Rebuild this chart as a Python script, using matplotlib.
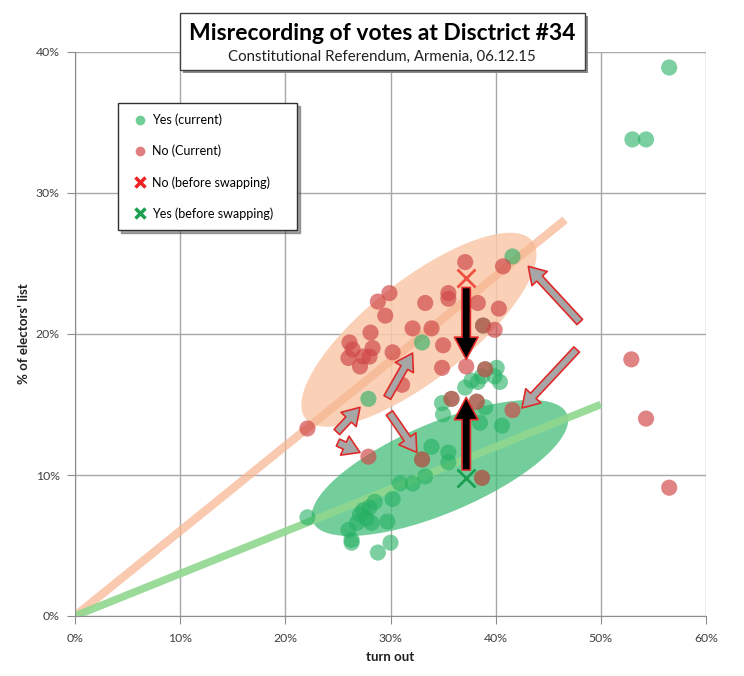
import numpy as np
import matplotlib
matplotlib.use('Agg')
import matplotlib.pyplot as plt
from matplotlib.patches import Polygon, Rectangle, FancyArrowPatch, ArrowStyle
from matplotlib.lines import Line2D
from matplotlib.ticker import FuncFormatter

plt.rcParams['font.family'] = ['Lato', 'DejaVu Sans']

# "No" votes (current), % of electors' list vs turnout
no_x = [29.9, 28.8, 29.5, 28.1, 26.1, 26.4, 27.4, 28.3, 26.0, 27.1, 28.0, 30.2, 32.1,
        37.1, 40.7, 35.5, 35.5, 33.3, 38.3, 40.3, 33.9, 38.8, 39.9, 35.0, 34.9, 37.2,
        39.0, 35.8, 38.2, 41.6, 22.1, 27.9, 33.0, 38.7, 31.1, 52.9, 54.3, 56.5]
no_y = [22.9, 22.3, 21.3, 20.1, 19.4, 18.9, 18.4, 19.0, 18.3, 17.7, 18.4, 18.7, 20.4,
        25.1, 24.8, 22.9, 22.5, 22.2, 22.2, 21.8, 20.4, 20.6, 20.3, 19.2, 17.6, 17.7,
        17.5, 15.4, 15.2, 14.6, 13.3, 11.3, 11.1, 9.8, 16.4, 18.2, 14.0, 9.1]

# "Yes" votes (current)
yes_x = [56.5, 53.0, 54.3, 41.6, 33.0, 27.9, 38.8, 39.0, 35.8, 38.2, 38.5, 33.0, 38.7,
         39.9, 40.4, 38.7, 38.3, 37.7, 37.1, 34.9, 35.0, 39.0, 40.6, 33.9, 35.5, 35.5,
         33.3, 32.1, 30.9, 30.2, 28.5, 28.0, 27.4, 27.1, 28.2, 29.7, 26.8, 26.0, 26.3,
         26.3, 30.0, 28.8, 22.1, 27.7, 40.1]
yes_y = [38.9, 33.8, 33.8, 25.5, 19.4, 15.4, 20.6, 17.5, 15.4, 15.2, 13.7, 11.1, 9.8,
         17.0, 16.6, 17.0, 16.6, 16.7, 16.2, 15.1, 14.3, 14.8, 13.5, 12.0, 11.6, 10.9,
         9.9, 9.4, 9.4, 8.3, 8.1, 7.7, 7.5, 7.2, 6.6, 6.7, 6.6, 6.1, 5.4,
         5.2, 5.2, 4.5, 7.0, 6.9, 17.6]

# values before swapping at the district
swap_no = (37.2, 24.0)
swap_yes = (37.2, 9.8)

# trend lines
trend_no_x = [0, 46.6]
trend_no_y = [0, 28.1]
trend_yes_x = [0, 50.0]
trend_yes_y = [0, 15.0]

# arrows (tail, head) in data units
grey_arrows = [((48.0, 20.85), (43.1, 24.8)),
               ((47.7, 18.9), (42.5, 14.75)),
               ((24.9, 13.05), (27.1, 14.8)),
               ((25.0, 12.3), (27.1, 11.6)),
               ((29.9, 14.4), (32.5, 11.6)),
               ((29.7, 15.5), (32.1, 18.65))]
black_arrows = [((37.2, 23.3), (37.2, 18.2)),
                ((37.2, 10.35), (37.2, 15.5))]

W, H = 744, 676
fig = plt.figure(figsize=(W / 100, H / 100), dpi=100)
ax = fig.add_axes([75 / W, 1 - 616 / H, 631 / W, 564 / H])
ax.set_xlim(0, 60)
ax.set_ylim(0, 40)


def cloud(center, a_px, b_px, angle):
    # ellipse drawn in pixel space, converted to data units
    sx = 631 / 60.0
    sy = 564 / 40.0
    t = np.linspace(0, 2 * np.pi, 200)
    th = np.radians(angle)
    px = a_px * np.cos(t) * np.cos(th) - b_px * np.sin(t) * np.sin(th)
    py = a_px * np.cos(t) * np.sin(th) + b_px * np.sin(t) * np.cos(th)
    return np.column_stack([center[0] + px / sx, center[1] + py / sy])


ax.add_patch(Polygon(cloud((32.7, 20.3), 144, 50, 38), closed=True,
                     facecolor='#fac9ab', edgecolor='none', alpha=0.85, zorder=1))
ax.add_patch(Polygon(cloud((34.7, 10.5), 138, 45, 23), closed=True,
                     facecolor='#3dbb76', edgecolor='none', alpha=0.72, zorder=1))

ax.plot(trend_no_x, trend_no_y, color='#f7b48f', lw=6, alpha=0.7, zorder=2,
        solid_capstyle='butt')
ax.plot(trend_yes_x, trend_yes_y, color='#8fd88f', lw=5.5, alpha=0.9, zorder=2,
        solid_capstyle='butt')

green = '#25b062'
red = '#d04848'
ax.scatter(yes_x, yes_y, s=135, color=green, alpha=0.6, edgecolors='none', zorder=3)
ax.scatter(no_x, no_y, s=135, color=red, alpha=0.68, edgecolors='none', zorder=4)

ax.plot(*swap_no, marker='x', color='#f05040', markersize=13, mew=2, zorder=5)
ax.plot(*swap_yes, marker='x', color='#1aa050', markersize=13, mew=2, zorder=5)

for (x0, y0), (x1, y1) in grey_arrows:
    ax.add_patch(FancyArrowPatch((x0, y0), (x1, y1),
                                 arrowstyle=ArrowStyle.Simple(head_length=12, head_width=15, tail_width=5.5),
                                 mutation_scale=1, shrinkA=0, shrinkB=0,
                                 facecolor='#a6a6a6', edgecolor='#e02a2a', lw=1.2, zorder=6))
for (x0, y0), (x1, y1) in black_arrows:
    ax.add_patch(FancyArrowPatch((x0, y0), (x1, y1),
                                 arrowstyle=ArrowStyle.Simple(head_length=16, head_width=17, tail_width=6),
                                 mutation_scale=1, shrinkA=0, shrinkB=0,
                                 facecolor='black', edgecolor='#e02a2a', lw=1.2, zorder=6))

# axes styling
ax.set_xticks(range(0, 61, 10))
ax.set_yticks(range(0, 41, 10))
ax.xaxis.set_major_formatter(FuncFormatter(lambda v, p: '%d%%' % v))
ax.yaxis.set_major_formatter(FuncFormatter(lambda v, p: '%d%%' % v))
ax.grid(True, color='#a8a8a8', lw=1)
ax.set_axisbelow(True)
for s in ['top', 'right']:
    ax.spines[s].set_visible(False)
for s in ['left', 'bottom']:
    ax.spines[s].set_color('#8c8c8c')
ax.tick_params(colors='#8c8c8c', length=6, labelcolor='#404040', labelsize=8.8)
ax.tick_params(axis='x', pad=6)
ax.tick_params(axis='y', pad=5)
ax.set_xlabel('turn out', fontsize=9.5, fontweight='bold', labelpad=5, color='#202020')
ax.set_ylabel("% of electors' list", fontsize=9.5, fontweight='bold', labelpad=4, color='#202020')

# legend
handles = [Line2D([], [], marker='o', ls='', color='#6fcf97', markersize=6),
           Line2D([], [], marker='o', ls='', color='#e08080', markersize=6),
           Line2D([], [], marker='x', ls='', color='#ee2020', markersize=7, mew=2.5),
           Line2D([], [], marker='x', ls='', color='#1aa050', markersize=7, mew=2.5)]
labels = ['Yes (current)', 'No (Current)', 'No (before swapping)', 'Yes (before swapping)    ']
leg = ax.legend(handles, labels, loc='upper left', bbox_to_anchor=(0.068, 0.91),
                borderaxespad=0, fontsize=9, labelspacing=1.5, handlelength=1.8,
                handletextpad=0.1, borderpad=0.85, fancybox=False, shadow=True,
                framealpha=1, edgecolor='#303030')
leg.get_frame().set_linewidth(1)
leg.set_zorder(10)

# title box
fig.add_artist(Rectangle((183 / W, 1 - 73 / H), 405 / W, 57 / H, transform=fig.transFigure,
                         facecolor='#8a8a8a', edgecolor='none', zorder=5))
fig.add_artist(Rectangle((180 / W, 1 - 70 / H), 405 / W, 57 / H, transform=fig.transFigure,
                         facecolor='white', edgecolor='#404040', lw=1, zorder=6))
fig.text(382 / W, 1 - 33 / H, 'Misrecording of votes at Disctrict #34', ha='center', va='center',
         fontsize=16.5, fontweight='bold', color='black', zorder=7)
fig.text(382 / W, 1 - 57 / H, 'Constitutional Referendum, Armenia, 06.12.15', ha='center',
         va='center', fontsize=10.8, color='#202020', zorder=7)

fig.savefig('out.png', dpi=100)
